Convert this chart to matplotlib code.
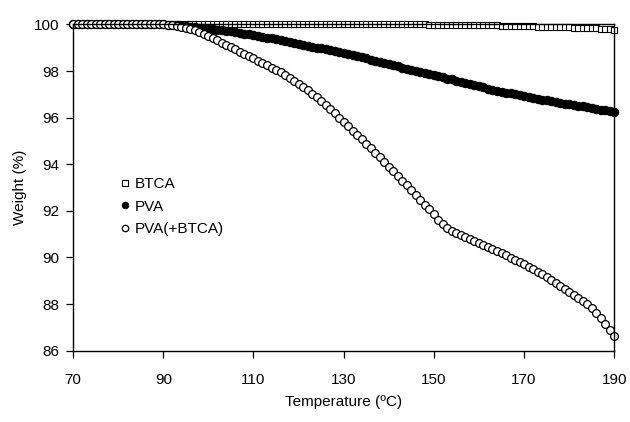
import matplotlib
matplotlib.use("Agg")
import matplotlib.pyplot as plt

plt.rcParams['font.family'] = ['Liberation Sans', 'DejaVu Sans']

# temperatura di campionamento, 1 grado
temperature = list(range(70, 191))

# BTCA (quadrati vuoti)
btca = [
    100.00, 100.00, 100.00, 100.00, 100.00, 100.00, 100.00, 100.00, 100.00, 100.00,  # 70-79
    100.00, 100.00, 100.00, 100.00, 100.00, 100.00, 100.00, 100.00, 100.00, 100.00,  # 80-89
    100.00, 100.00, 100.00, 100.00, 100.00, 100.00, 100.00, 100.00, 100.00, 100.00,  # 90-99
    100.00, 100.00, 100.00, 100.00, 100.00, 100.00, 100.00, 100.00, 100.00, 100.00,  # 100-109
    100.00, 100.00, 100.00, 100.00, 100.00, 100.00, 100.00, 100.00, 100.00, 100.00,  # 110-119
    100.00, 100.00, 100.00, 100.00, 100.00, 100.00, 100.00, 100.00, 100.00, 100.00,  # 120-129
    100.00, 100.00, 100.00, 100.00, 100.00, 100.00, 100.00, 100.00, 100.00, 100.00,  # 130-139
    100.00, 100.00, 100.00, 100.00, 100.00, 100.00, 100.00, 100.00, 100.00, 99.99,   # 140-149
    99.99, 99.99, 99.99, 99.99, 99.98, 99.98, 99.98, 99.98, 99.98, 99.97,            # 150-159
    99.97, 99.97, 99.97, 99.96, 99.96, 99.95, 99.95, 99.94, 99.94, 99.93,            # 160-169
    99.93, 99.92, 99.92, 99.91, 99.91, 99.90, 99.90, 99.89, 99.89, 99.88,            # 170-179
    99.88, 99.87, 99.86, 99.86, 99.85, 99.84, 99.83, 99.82, 99.81, 99.80,            # 180-189
    99.78,                                                                            # 190
]

# PVA (cerchi pieni)
pva = [
    100.00, 100.00, 100.00, 100.00, 100.00, 100.00, 100.00, 100.00, 100.00, 100.00,  # 70-79
    100.00, 100.00, 100.00, 100.00, 100.00, 100.00, 100.00, 100.00, 100.00, 100.00,  # 80-89
    100.00, 99.99, 99.98, 99.97, 99.95, 99.93, 99.91, 99.89, 99.87, 99.84,           # 90-99
    99.82, 99.79, 99.77, 99.75, 99.72, 99.70, 99.67, 99.64, 99.61, 99.58,            # 100-109
    99.55, 99.51, 99.48, 99.44, 99.40, 99.37, 99.33, 99.29, 99.25, 99.21,            # 110-119
    99.17, 99.13, 99.09, 99.05, 99.01, 98.97, 98.93, 98.89, 98.85, 98.81,            # 120-129
    98.77, 98.73, 98.68, 98.64, 98.59, 98.54, 98.49, 98.45, 98.40, 98.35,            # 130-139
    98.30, 98.25, 98.20, 98.15, 98.10, 98.06, 98.01, 97.96, 97.92, 97.87,            # 140-149
    97.83, 97.78, 97.73, 97.68, 97.64, 97.59, 97.55, 97.50, 97.45, 97.40,            # 150-159
    97.35, 97.30, 97.25, 97.20, 97.16, 97.12, 97.08, 97.04, 97.00, 96.96,            # 160-169
    96.92, 96.88, 96.85, 96.81, 96.78, 96.74, 96.71, 96.67, 96.64, 96.60,            # 170-179
    96.57, 96.54, 96.51, 96.48, 96.44, 96.41, 96.38, 96.35, 96.32, 96.29,            # 180-189
    96.26,                                                                            # 190
]

# PVA(+BTCA) (cerchi vuoti)
pva_btca = [
    100.00, 100.00, 100.00, 100.00, 100.00, 100.00, 100.00, 100.00, 100.00, 100.00,  # 70-79
    100.00, 100.00, 100.00, 100.00, 100.00, 100.00, 100.00, 100.00, 100.00, 100.00,  # 80-89
    100.00, 99.99, 99.97, 99.94, 99.90, 99.86, 99.81, 99.75, 99.68, 99.60,           # 90-99
    99.51, 99.42, 99.32, 99.22, 99.12, 99.02, 98.93, 98.84, 98.75, 98.65,            # 100-109
    98.55, 98.45, 98.35, 98.25, 98.15, 98.05, 97.94, 97.82, 97.70, 97.57,            # 110-119
    97.44, 97.31, 97.19, 97.03, 96.87, 96.70, 96.53, 96.36, 96.18, 96.00,            # 120-129
    95.82, 95.63, 95.44, 95.26, 95.07, 94.88, 94.69, 94.50, 94.30, 94.10,            # 130-139
    93.90, 93.70, 93.50, 93.30, 93.10, 92.90, 92.69, 92.48, 92.27, 92.06,            # 140-149
    91.85, 91.63, 91.42, 91.26, 91.15, 91.06, 90.97, 90.89, 90.80, 90.72,            # 150-159
    90.63, 90.54, 90.45, 90.36, 90.27, 90.18, 90.09, 89.99, 89.90, 89.80,            # 160-169
    89.70, 89.60, 89.49, 89.38, 89.27, 89.15, 89.03, 88.91, 88.79, 88.66,            # 170-179
    88.53, 88.40, 88.27, 88.14, 88.00, 87.82, 87.62, 87.40, 87.15, 86.90,            # 180-189
    86.62,                                                                            # 190
]

x_ticks = [70, 90, 110, 130, 150, 170, 190]
y_ticks = [86, 88, 90, 92, 94, 96, 98, 100]

fig = plt.figure(figsize=(6.3, 4.22), dpi=100)
ax = fig.add_axes([0.116, 0.169, 0.859, 0.773])

ax.plot(temperature, btca, linestyle='none', marker='s', markersize=4.8,
        markerfacecolor='white', markeredgecolor='black', markeredgewidth=0.8,
        label='BTCA', clip_on=False)
ax.plot(temperature, pva, linestyle='none', marker='o', markersize=6.0,
        markerfacecolor='black', markeredgecolor='black', markeredgewidth=0.8,
        label='PVA', clip_on=False)
ax.plot(temperature, pva_btca, linestyle='none', marker='o', markersize=5.6,
        markerfacecolor='white', markeredgecolor='black', markeredgewidth=0.9,
        label='PVA(+BTCA)', clip_on=False)

ax.set_xlim(70, 190)
ax.set_ylim(86, 100)
ax.set_xticks(x_ticks)
ax.set_yticks(y_ticks)
ax.tick_params(direction='out', length=5, width=0.9, labelsize=11,
               colors='black')
ax.tick_params(axis='x', pad=11)
ax.tick_params(axis='y', pad=5)
for side in ['left', 'bottom', 'right', 'top']:
    ax.spines[side].set_linewidth(1.0)
    ax.spines[side].set_color('black')

ax.set_xlabel('Temperature (ºC)', fontsize=11, labelpad=6)
ax.set_ylabel('Weight (%)', fontsize=11, labelpad=5)

leg = ax.legend(loc='upper left', bbox_to_anchor=(0.076, 0.55), frameon=False,
                fontsize=11, handlelength=0.6, handletextpad=0.35,
                labelspacing=0.55, borderaxespad=0)
for h in leg.legend_handles:
    h.set_markersize(4.6)

fig.savefig('out.png', dpi=100)
